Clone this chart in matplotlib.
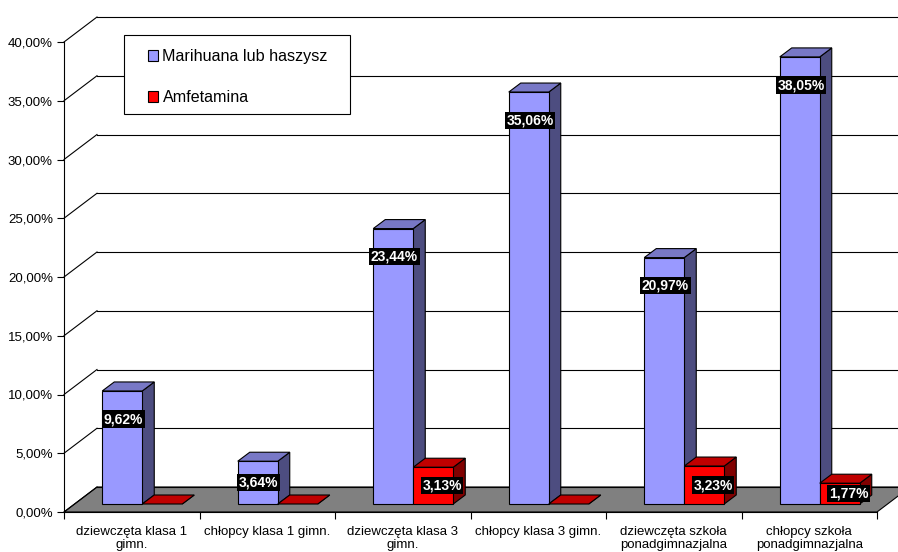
import matplotlib
matplotlib.use('Agg')
import matplotlib.pyplot as plt
from matplotlib.patches import Polygon, Patch, Rectangle
from matplotlib.ticker import FuncFormatter

categories = ["dziewczęta klasa 1\ngimn.", "chłopcy klasa 1 gimn.",
              "dziewczęta klasa 3\ngimn.", "chłopcy klasa 3 gimn.",
              "dziewczęta szkoła\nponadgimnazjalna", "chłopcy szkoła\nponadgimnazjalna"]
series_names = ["Marihuana lub haszysz", "Amfetamina"]
marihuana = [9.62, 3.64, 23.44, 35.06, 20.97, 38.05]
amfetamina = [0.0, 0.0, 3.13, 0.0, 3.23, 1.77]
y_ticks = [0, 5, 10, 15, 20, 25, 30, 35, 40]

plt.rcParams['font.family'] = ['Liberation Sans', 'DejaVu Sans']

W, H = 898, 552
fig = plt.figure(figsize=(W / 100, H / 100), dpi=100)
ax = fig.add_axes([0, 0, 1, 1])

PX = 135.5   # pixels per category
PY = 11.75   # pixels per percent
ax.set_xlim(-0.5 - 64 / PX, 5.5 + 21 / PX)
ax.set_ylim(-40 / PY, 40 + 42 / PY)
ax.patch.set_alpha(0)

# depth geometry
Dx, Dy = 33 / PX, 25 / PY          # whole plot depth
dx, dy = 12 / PX, 9 / PY           # bar depth
ox, oy = (Dx - dx) / 2, (Dy - dy) / 2
bw = 40 / PX                        # bar width
xmax = ax.get_xlim()[1] + 1

# floor
ax.add_patch(Polygon([(-0.5, 0), (5.5, 0), (5.5 + Dx, Dy), (-0.5 + Dx, Dy)],
                     closed=True, fc='#808080', ec='black', lw=0.8, zorder=1))

# walls gridlines
for t in y_ticks:
    ax.plot([-0.5 + Dx, xmax], [t + Dy, t + Dy], color='black', lw=0.8, zorder=1.5)
    ax.plot([-0.5, -0.5 + Dx], [t, t + Dy], color='black', lw=0.8, zorder=1.5)

colors = [('#9999FF', '#7878C6', '#4D4D80'), ('#FF0000', '#C00000', '#800000')]
label_dx = [0.008, 0.065]


def bar3d(x0, v, cols, z):
    front, top, side = cols
    xl = x0 + ox
    xr = xl + bw
    yb = oy
    yt = v + oy
    ax.add_patch(Polygon([(xr, yb), (xr + dx, yb + dy), (xr + dx, yt + dy), (xr, yt)],
                         closed=True, fc=side, ec='black', lw=0.8, zorder=z))
    ax.add_patch(Polygon([(xl, yt), (xr, yt), (xr + dx, yt + dy), (xl + dx, yt + dy)],
                         closed=True, fc=top, ec='black', lw=0.8, zorder=z))
    if v > 0:
        ax.add_patch(Rectangle((xl, yb), bw, v, fc=front, ec='black', lw=0.8, zorder=z))


z = 3
for i in range(len(categories)):
    for s, vals in enumerate([marihuana, amfetamina]):
        v = vals[i]
        x0 = i - bw + s * bw
        bar3d(x0, v, colors[s], z)
        z += 0.1
        if v > 0:
            ly = max(v / 2, v - 2.4) + oy
            lx = x0 + ox + bw / 2 + label_dx[s]
            ax.text(lx, ly, f"{v:.2f}".replace('.', ',') + '%', ha='center', va='center',
                    color='white', fontsize=10, fontweight='bold', zorder=20,
                    bbox=dict(boxstyle='square,pad=0.12', fc='black', ec='none'))

# axes / spines
for sp in ['top', 'right']:
    ax.spines[sp].set_visible(False)
ax.spines['left'].set_position(('data', -0.5))
ax.spines['left'].set_bounds(0, 40)
ax.spines['bottom'].set_position(('data', 0))
ax.spines['bottom'].set_bounds(-0.5, 5.5)
for sp in ['left', 'bottom']:
    ax.spines[sp].set_linewidth(0.8)
    ax.spines[sp].set_color('black')

ax.set_yticks(y_ticks)
ax.yaxis.set_major_formatter(FuncFormatter(lambda v, p: f"{v:.2f}".replace('.', ',') + '%'))
ax.tick_params(axis='y', direction='out', length=5, width=0.8, pad=3, labelsize=9.5, colors='black')

ax.set_xticks([k - 0.5 for k in range(len(categories) + 1)])
ax.set_xticklabels([])
ax.set_xticks(range(len(categories)), categories, minor=True)
ax.tick_params(axis='x', which='major', direction='out', length=5, width=0.8)
ax.tick_params(axis='x', which='minor', length=0, pad=10, labelsize=9.5)
for lbl in ax.get_xticklabels(minor=True):
    lbl.set_linespacing(1.15)

# legend
fig.add_artist(Rectangle((124 / W, 1 - 114 / H), 226 / W, 79 / H, transform=fig.transFigure,
                         fc='white', ec='black', lw=0.8, zorder=30))
handles = [Patch(fc=colors[0][0], ec='black', lw=0.8), Patch(fc=colors[1][0], ec='black', lw=0.8)]
leg = fig.legend(handles, series_names, loc='upper left', bbox_to_anchor=(148 / W, 1 - 49 / H),
                 bbox_transform=fig.transFigure, borderaxespad=0, borderpad=0, frameon=False,
                 fontsize=11.6, handlelength=0.65, handleheight=0.65, handletextpad=0.25,
                 labelspacing=1.62)
leg.set_zorder(31)

fig.savefig('out.png', dpi=100)
